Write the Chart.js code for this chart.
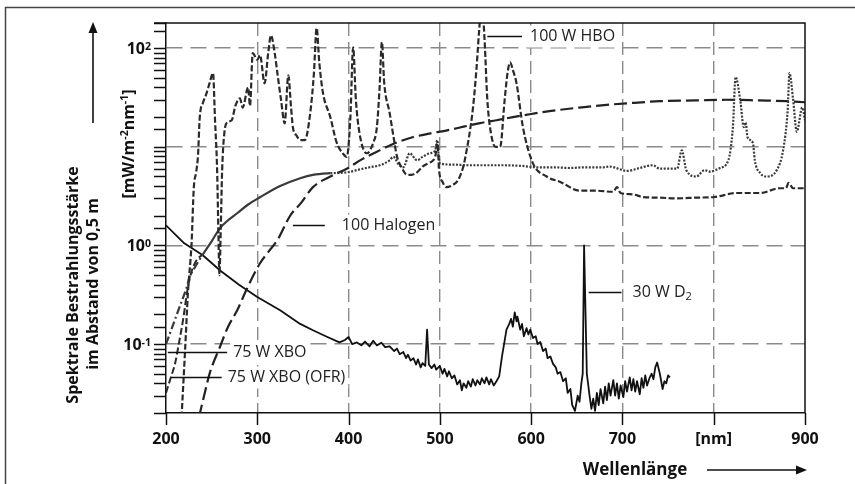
<!DOCTYPE html>
<html>
<head>
<meta charset="utf-8">
<script src="https://cdn.jsdelivr.net/npm/chart.js@4.4.0/dist/chart.umd.min.js"></script>
<style>
  html, body { margin: 0; padding: 0; background: #fff; }
  canvas { display: block; }
</style>
</head>
<body>
<canvas id="spektrum" width="855" height="484"></canvas>
<script>
// ===== Daten =====
const xTicks = [200, 300, 400, 500, 600, 700, 800, 900];
const xTickLabels = ['200', '300', '400', '500', '600', '700', '[nm]', '900'];
const yLabelValues = [100, 1, 0.1];
const yLabelExponents = ['2', '0', '-1'];

const seriesNames = ['100 W HBO', '75 W XBO', '75 W XBO (OFR)', '100 Halogen', '30 W D2'];

// 100 W HBO (Quecksilber)
const hboNm = [217, 221, 224, 228, 230.5, 233, 235, 237, 240.5, 244, 248, 251.5, 253.7, 256, 257.5, 258.5, 260, 261.5, 264, 267,
  272, 276, 281, 284, 290, 292, 295, 300, 303, 308, 312, 315, 319, 322, 326, 330, 334, 337, 339, 343, 347, 352, 358, 362, 365, 368,
  372, 380, 387, 394, 398, 402, 405, 408, 412, 420, 427, 431, 434, 436.5, 439, 445, 449, 453, 458, 464, 469, 475, 481, 487, 492,
  495, 497.5, 499, 503, 507, 514, 520, 525, 528, 536, 540, 543, 546, 549, 552, 556, 561, 566, 571, 574, 577, 580, 584, 591, 602,
  617, 632, 653, 668, 690, 694, 698, 711, 722, 740, 760, 780, 801, 825, 851, 872, 879, 882, 887, 898, 900];
const hboVal = [0.018, 0.09, 0.33, 1.05, 3.9, 5.5, 8, 20, 28, 34, 45, 56, 18.6, 5.8, 1.2, 0.5, 1.5, 5.8, 14, 17.7,
  18.6, 26, 31, 25, 40, 26, 89, 76, 85, 44, 90, 135, 90, 56, 30, 17.3, 53, 25, 15.8, 13, 11.7, 11.7, 22, 55, 160, 70,
  35, 20, 11, 8.5, 7.9, 20, 102, 30, 13.7, 8.6, 11, 15.8, 40, 115, 45, 22, 13, 8, 6.2, 5.2, 5.2, 5.5, 6.3, 6.8, 7.2,
  8, 11, 6, 4.4, 3.9, 4.1, 4.6, 6, 7.9, 23.5, 60, 150, 300, 120, 30, 13.7, 10, 10, 30, 55, 72, 60, 44, 15.8, 6.8,
  5.0, 4.4, 3.6, 3.6, 3.5, 3.9, 3.4, 3.3, 3.1, 3.05, 3.0, 3.05, 3.1, 3.4, 3.4, 3.8, 3.8, 4.3, 3.8, 3.8, 3.8];

// 75 W XBO (Xenon)
const xboNm = [200, 207, 215, 222, 226, 233, 240, 250, 259, 268, 278, 290, 303, 325, 347, 361, 380, 398, 412, 423, 434, 445, 449,
  455, 460, 467, 475, 481, 489, 495, 497, 498.5, 500, 515, 533, 550, 569, 590, 606, 625, 642, 660, 679, 686, 705, 719, 733, 741,
  760, 765, 770, 781, 790, 796, 807, 816, 821, 824, 829, 833, 835, 837, 843, 845, 851, 858, 869, 876, 881, 883, 887, 891, 897, 900];
const xboVal = [0.1, 0.15, 0.24, 0.36, 0.48, 0.63, 0.8, 1.1, 1.49, 1.8, 2.12, 2.6, 3.08, 4.0, 4.8, 5.2, 5.4, 5.5, 5.9, 6.2, 6.5, 7.3, 7.9,
  6.6, 6.2, 8.6, 7.3, 7.9, 8.6, 9.2, 11.7, 8.6, 6.8, 6.6, 6.5, 6.5, 6.5, 6.4, 6.2, 6.2, 6.1, 6.2, 6.2, 6.3, 5.7, 6.1, 6.5, 6.0,
  6.0, 9.2, 5.8, 5.0, 5.8, 5.6, 6.1, 7.3, 15.8, 51, 30, 15.8, 17.7, 12.5, 10.9, 7.3, 5.4, 5.0, 5.8, 9.2, 23.5, 56, 30, 14.2, 25, 18.6];

// 75 W XBO (OFR, ozonfrei)
const ofrNm = [200, 205, 210, 214, 218.6, 224, 228.5, 234, 240];
const ofrVal = [0.032, 0.045, 0.064, 0.1, 0.174, 0.377, 0.56, 0.72, 0.8];

// 100 W Halogen
const halogenNm = [236, 241, 248, 259, 268, 278, 289, 303, 313, 322, 336, 348, 361, 380, 398, 415, 434, 452, 470, 490, 508, 526, 544,
  562, 580, 600, 620, 653, 680, 705, 741, 780, 814, 850, 880, 900];
const halogenVal = [0.018, 0.028, 0.051, 0.093, 0.15, 0.22, 0.37, 0.66, 0.88, 1.13, 2.0, 2.7, 3.9, 5.0, 6.0, 7.5, 9.2, 11, 12.5, 13.7, 14.7, 16, 17.4,
  18.6, 20, 21.5, 23, 25, 26.5, 27.6, 29, 29.5, 30, 29.5, 29, 28.3];

// 30 W D2 (Deuterium)
const d2Nm = [200, 220, 240, 260, 280, 300, 325, 347, 361, 375, 390, 396, 400, 404, 409, 414, 418, 423, 427, 431, 436, 440, 445, 450,
  453, 456, 460, 463, 465, 468, 471, 474, 476, 479, 481, 484, 486, 488, 491, 494, 496, 500, 503, 505, 508, 510, 513, 516, 519, 522,
  524, 526, 529, 531, 534, 536, 539, 541, 544, 546, 549, 551, 554, 556, 559, 562, 565, 568, 573, 576, 578, 580, 582, 584, 585, 588,
  590, 592, 595, 597, 599, 602, 605, 607, 610, 613, 616, 618, 621, 624, 627, 629, 632, 635, 638, 640, 643, 645, 648, 651, 653, 655,
  656.5, 658, 661, 664, 666, 668, 670, 672, 674, 676, 679, 681, 683, 685, 687, 690, 692, 694, 696, 698, 701, 703, 705, 708, 710,
  712, 714, 716, 719, 721, 723, 725, 727, 730, 732, 734, 736, 738, 741, 744, 746, 748, 750, 752];
const d2Val = [1.6, 1.05, 0.8, 0.55, 0.4, 0.3, 0.22, 0.16, 0.138, 0.12, 0.104, 0.11, 0.118, 0.1, 0.104, 0.097, 0.106, 0.095, 0.108, 0.097,
  0.103, 0.093, 0.095, 0.085, 0.09, 0.079, 0.083, 0.072, 0.078, 0.068, 0.072, 0.062, 0.07, 0.058, 0.064, 0.06, 0.14, 0.062, 0.057,
  0.062, 0.055, 0.06, 0.05, 0.056, 0.047, 0.053, 0.045, 0.048, 0.039, 0.043, 0.034, 0.04, 0.036, 0.042, 0.037, 0.044, 0.038,
  0.043, 0.039, 0.045, 0.04, 0.046, 0.039, 0.044, 0.038, 0.042, 0.047, 0.074, 0.14, 0.16, 0.18, 0.15, 0.21, 0.17, 0.19, 0.14,
  0.16, 0.12, 0.145, 0.125, 0.14, 0.115, 0.12, 0.1, 0.105, 0.085, 0.09, 0.072, 0.075, 0.063, 0.058, 0.05, 0.052, 0.042, 0.045,
  0.032, 0.035, 0.024, 0.021, 0.03, 0.026, 0.04, 0.05, 1.0, 0.05, 0.03, 0.022, 0.028, 0.021, 0.032, 0.024, 0.035, 0.025, 0.037,
  0.027, 0.04, 0.03, 0.043, 0.03, 0.04, 0.028, 0.038, 0.029, 0.042, 0.033, 0.046, 0.034, 0.044, 0.033, 0.042, 0.031, 0.045, 0.036,
  0.048, 0.038, 0.046, 0.05, 0.044, 0.058, 0.065, 0.05, 0.035, 0.042, 0.04, 0.048, 0.046];

function punkte(nm, val) {
  return nm.map((x, i) => ({ x: x, y: val[i] }));
}

const schrift = '"Open Sans", "Noto Sans", sans-serif';
const isDekade = v => Math.abs(Math.log10(v) - Math.round(Math.log10(v))) < 1e-6;

function zeichneTeile(ctx, teile, x, y) {
  let px = x;
  teile.forEach(t => {
    ctx.font = t[2];
    ctx.fillText(t[0], px, y + t[1]);
    px += ctx.measureText(t[0]).width;
  });
  return px - x;
}

function breiteTeile(ctx, teile) {
  let b = 0;
  teile.forEach(t => { ctx.font = t[2]; b += ctx.measureText(t[0]).width; });
  return b;
}

// Beschriftungen, Striche, Pfeile, Rahmen
const beschriftung = {
  id: 'beschriftung',
  afterDatasetsDraw(chart) {
    const { ctx, chartArea: a, scales: { x, y } } = chart;
    ctx.save();

    // äußerer Rahmen
    ctx.strokeStyle = '#444';
    ctx.lineWidth = 1.5;
    ctx.beginPath();
    ctx.moveTo(5.5, 484);
    ctx.lineTo(5.5, 7.5);
    ctx.lineTo(855, 7.5);
    ctx.stroke();

    // Diagrammrahmen oben und rechts
    ctx.strokeStyle = '#111';
    ctx.lineWidth = 1.5;
    ctx.beginPath();
    ctx.moveTo(a.left - 12, a.top);
    ctx.lineTo(a.right, a.top);
    ctx.lineTo(a.right, a.bottom);
    ctx.stroke();

    // Teilstriche y (log, auch Zwischenwerte)
    ctx.lineWidth = 1.3;
    ctx.beginPath();
    y.ticks.forEach(t => {
      const py = Math.round(y.getPixelForValue(t.value)) + 0.5;
      ctx.moveTo(a.left - 12, py);
      ctx.lineTo(a.left, py);
    });
    ctx.stroke();

    // Teilstriche x und Beschriftung
    ctx.lineWidth = 1.5;
    ctx.beginPath();
    xTicks.forEach(v => {
      const px = Math.round(x.getPixelForValue(v)) + 0.5;
      ctx.moveTo(px, a.bottom);
      ctx.lineTo(px, a.bottom + 12);
    });
    ctx.stroke();

    ctx.fillStyle = '#111';
    ctx.font = 'bold 16px ' + schrift;
    ctx.textAlign = 'center';
    ctx.textBaseline = 'middle';
    xTicks.forEach((v, i) => {
      ctx.fillText(xTickLabels[i], x.getPixelForValue(v), a.bottom + 26);
    });

    // y-Achsenbeschriftung 10^n
    ctx.textAlign = 'left';
    ctx.textBaseline = 'alphabetic';
    const fGross = 'bold 16px ' + schrift;
    const fHoch = 'bold 10.5px ' + schrift;
    yLabelValues.forEach((v, i) => {
      const py = y.getPixelForValue(v);
      const teile = [['10', 6, fGross], [yLabelExponents[i], 2, fHoch]];
      const b = breiteTeile(ctx, teile);
      zeichneTeile(ctx, teile, 151 - b, py);
    });

    // y-Titel (gedreht)
    ctx.save();
    ctx.rotate(-Math.PI / 2);
    ctx.textAlign = 'center';
    ctx.font = 'bold 16px ' + schrift;
    ctx.fillText('Spektrale Bestrahlungsstärke', -285, 78);
    ctx.fillText('im Abstand von 0,5 m', -284, 98);
    ctx.textAlign = 'left';
    const einheit = [['[mW/m', 0, fGross], ['-2', -6, fHoch], ['nm', 0, fGross], ['-1', -6, fHoch], [']', 0, fGross]];
    const eb = breiteTeile(ctx, einheit);
    zeichneTeile(ctx, einheit, -144 - eb / 2, 134);
    ctx.restore();

    // Pfeil nach oben
    ctx.strokeStyle = '#111';
    ctx.lineWidth = 1.6;
    ctx.beginPath();
    ctx.moveTo(93, 123);
    ctx.lineTo(93, 30);
    ctx.stroke();
    ctx.beginPath();
    ctx.moveTo(93, 22);
    ctx.lineTo(88.5, 33);
    ctx.lineTo(97.5, 33);
    ctx.closePath();
    ctx.fill();

    // x-Titel und Pfeil
    ctx.font = 'bold 17px ' + schrift;
    ctx.textAlign = 'center';
    ctx.textBaseline = 'middle';
    ctx.fillText('Wellenlänge', 635, 470);
    ctx.beginPath();
    ctx.moveTo(707, 470);
    ctx.lineTo(798, 470);
    ctx.stroke();
    ctx.beginPath();
    ctx.moveTo(807, 470);
    ctx.lineTo(796, 465.5);
    ctx.lineTo(796, 474.5);
    ctx.closePath();
    ctx.fill();

    // Kurvenbeschriftungen
    const fText = '16px ' + schrift;
    const fSub = '11px ' + schrift;
    const marken = [
      { teile: [[seriesNames[0], 0, fText]], von: 552, bis: 590, wert: 132, abstand: 8 },
      { teile: [[seriesNames[3], 0, fText]], von: 339, bis: 374, wert: 1.6, abstand: 17 },
      { teile: [['30 W D', 0, fText], ['2', 4, fSub]], von: 663, bis: 699, wert: 0.335, abstand: 11 },
      { teile: [[seriesNames[1], 0, fText]], von: 202, bis: 267, wert: 0.0826, abstand: 6 },
      { teile: [[seriesNames[2], 0, fText]], von: 205.5, bis: 261, wert: 0.046, abstand: 6 }
    ];
    ctx.textAlign = 'left';
    ctx.textBaseline = 'middle';
    marken.forEach(m => {
      const x1 = x.getPixelForValue(m.von);
      const x2 = x.getPixelForValue(m.bis);
      const py = Math.round(y.getPixelForValue(m.wert)) + 0.5;
      const tx = x2 + m.abstand;
      const b = breiteTeile(ctx, m.teile);
      ctx.fillStyle = '#fff';
      ctx.fillRect(tx - 3, py - 11, b + 6, 22);
      ctx.strokeStyle = '#111';
      ctx.lineWidth = 1.3;
      ctx.beginPath();
      ctx.moveTo(x1, py);
      ctx.lineTo(x2, py);
      ctx.stroke();
      ctx.fillStyle = '#222';
      zeichneTeile(ctx, m.teile, tx, py);
    });

    ctx.restore();
  }
};

const ctx = document.getElementById('spektrum').getContext('2d');
const spektrum = new Chart(ctx, {
  type: 'line',
  data: {
    datasets: [
      {
        label: seriesNames[0],
        data: punkte(hboNm, hboVal),
        borderColor: '#2a2a2a',
        borderWidth: 2.2,
        borderDash: [6, 2.5],
        cubicInterpolationMode: 'monotone'
      },
      {
        label: seriesNames[1],
        data: punkte(xboNm, xboVal),
        borderColor: '#3a3a3a',
        borderWidth: 2.2,
        cubicInterpolationMode: 'monotone',
        segment: {
          borderDash: c => c.p0.parsed.x < 240 ? [8, 3, 2, 3] : (c.p0.parsed.x < 380 ? [] : [2, 1.5])
        }
      },
      {
        label: seriesNames[2],
        data: punkte(ofrNm, ofrVal),
        borderColor: '#2a2a2a',
        borderWidth: 2,
        borderDash: [7, 3],
        cubicInterpolationMode: 'monotone'
      },
      {
        label: seriesNames[3],
        data: punkte(halogenNm, halogenVal),
        borderColor: '#222',
        borderWidth: 2.2,
        borderDash: [13, 5],
        cubicInterpolationMode: 'monotone'
      },
      {
        label: seriesNames[4],
        data: punkte(d2Nm, d2Val),
        borderColor: '#111',
        borderWidth: 1.8,
        tension: 0
      }
    ]
  },
  options: {
    responsive: false,
    animation: false,
    events: [],
    parsing: false,
    elements: { point: { radius: 0 }, line: { fill: false, borderJoinStyle: 'round' } },
    layout: { padding: { left: 166, right: 50, top: 23, bottom: 71 } },
    plugins: { legend: { display: false }, tooltip: { enabled: false } },
    scales: {
      x: {
        type: 'linear',
        min: 200,
        max: 900,
        afterFit: s => { s.height = 0; },
        afterBuildTicks: s => { s.ticks = xTicks.map(v => ({ value: v })); },
        ticks: { autoSkip: false, maxRotation: 0, callback: () => '' },
        grid: {
          color: c => (c.tick && c.tick.value > 200 && c.tick.value < 900) ? '#8a8a8a' : 'rgba(0,0,0,0)',
          lineWidth: 1.4,
          drawTicks: false
        },
        border: { display: true, color: '#111', width: 1.5, dash: [13, 6] }
      },
      y: {
        type: 'logarithmic',
        min: 0.02,
        max: 180,
        afterFit: s => { s.width = 0; },
        ticks: { autoSkip: false, callback: () => '' },
        grid: {
          color: c => (c.tick && isDekade(c.tick.value)) ? '#8a8a8a' : 'rgba(0,0,0,0)',
          lineWidth: 1.4,
          drawTicks: false
        },
        border: { display: true, color: '#111', width: 1.5, dash: [16, 8] }
      }
    }
  },
  plugins: [beschriftung]
});
</script>
</body>
</html>
